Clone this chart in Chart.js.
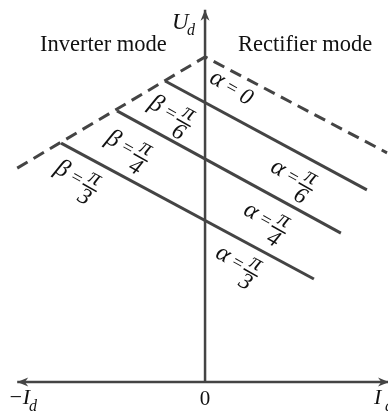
<!DOCTYPE html>
<html>
<head>
<meta charset="utf-8">
<script src="https://cdn.jsdelivr.net/npm/chart.js@4"></script>
<style>
  html, body { margin: 0; padding: 0; background: #fff; }
  #wrap { width: 388px; height: 413px; }
</style>
</head>
<body>
<div id="wrap"><canvas id="diagram" width="388" height="413"></canvas></div>
<script>
// values in units of the rectifier voltage at alpha = 0 (apex = 1)
const boundaryX = [-0.578, 0, 0.560];
const boundaryY = [0.658, 1.0, 0.705];
const angleLabels = ['π/6', 'π/4', 'π/3'];
const lineStartX = [-0.123, -0.271, -0.443];
const lineStartY = [0.926, 0.834, 0.735];
const lineEndX = [0.498, 0.418, 0.335];
const lineEndY = [0.591, 0.458, 0.317];
const axisX = [-0.578, 0.563];
const axisYTop = 1.145;

const ink = '#444';
const serif = '"Liberation Serif", "DejaVu Serif", serif';

const datasets = [{
    data: boundaryX.map((x, i) => ({ x: x, y: boundaryY[i] })),
    borderColor: ink,
    borderWidth: 3,
    borderDash: [12, 7]
}];
angleLabels.forEach((name, i) => {
    datasets.push({
        data: [{ x: lineStartX[i], y: lineStartY[i] }, { x: lineEndX[i], y: lineEndY[i] }],
        borderColor: ink,
        borderWidth: 3
    });
});
datasets.push({
    data: [{ x: axisX[0], y: 0 }, { x: axisX[1], y: 0 }],
    borderColor: ink,
    borderWidth: 2.5
});
datasets.push({
    data: [{ x: 0, y: 0 }, { x: 0, y: axisYTop }],
    borderColor: ink,
    borderWidth: 2.5
});

// pixel anchors for rotated labels (fraction bar centre, or the value for alpha = 0)
const rotLabels = [
    { sym: 'α', frac: null, num: '0', at: [245, 97] },
    { sym: 'β', frac: '6', at: [184, 122] },
    { sym: 'β', frac: '4', at: [141, 157] },
    { sym: 'β', frac: '3', at: [90, 187] },
    { sym: 'α', frac: '6', at: [306, 186] },
    { sym: 'α', frac: '4', at: [279, 229] },
    { sym: 'α', frac: '3', at: [251, 272] }
];

function arrow(ctx, x, y, dx, dy) {
    const len = 11, half = 4.5;
    const px = -dy, py = dx;
    ctx.beginPath();
    ctx.moveTo(x, y);
    ctx.lineTo(x - dx * len + px * half, y - dy * len + py * half);
    ctx.lineTo(x - dx * len * 0.7, y - dy * len * 0.7);
    ctx.lineTo(x - dx * len - px * half, y - dy * len - py * half);
    ctx.closePath();
    ctx.fill();
}

const decor = {
    id: 'decor',
    afterDatasetsDraw(chart) {
        const ctx = chart.ctx;
        const sx = chart.scales.x, sy = chart.scales.y;
        const ox = sx.getPixelForValue(0), oy = sy.getPixelForValue(0);
        ctx.save();
        ctx.fillStyle = ink;
        arrow(ctx, sx.getPixelForValue(axisX[0]), oy, -1, 0);
        arrow(ctx, sx.getPixelForValue(axisX[1]) + 1, oy, 1, 0);
        arrow(ctx, ox, sy.getPixelForValue(axisYTop), 0, -1);

        ctx.fillStyle = '#111';
        ctx.textBaseline = 'alphabetic';
        ctx.font = '22.5px ' + serif;
        ctx.textAlign = 'left';
        ctx.fillText('Inverter mode', 40, 51);
        ctx.fillText('Rectifier mode', 238, 51);

        ctx.font = 'italic 23px ' + serif;
        ctx.fillText('U', 172, 29);
        ctx.font = 'italic 16px ' + serif;
        ctx.fillText('d', 187, 35);

        ctx.font = '21px ' + serif;
        ctx.textAlign = 'center';
        ctx.fillText('0', ox, 405);
        ctx.textAlign = 'left';
        ctx.font = 'italic 22px ' + serif;
        ctx.fillText('−I', 8, 404);
        ctx.fillText('I', 374, 404);
        ctx.font = 'italic 16px ' + serif;
        ctx.fillText('d', 29, 411);
        ctx.fillText('d', 385, 411);

        const ang = 29 * Math.PI / 180;
        rotLabels.forEach(l => {
            ctx.save();
            ctx.translate(l.at[0], l.at[1]);
            ctx.rotate(ang);
            ctx.textAlign = 'center';
            ctx.textBaseline = 'middle';
            ctx.font = 'italic 25px ' + serif;
            ctx.fillText(l.sym, -33, -2);
            ctx.font = '19px ' + serif;
            ctx.fillText('=', -16, -1);
            if (l.frac) {
                ctx.font = 'italic 23px ' + serif;
                ctx.fillText('π', 0, -10);
                ctx.fillText(l.frac, 0, 12);
                ctx.fillRect(-8, 0, 16, 1.5);
            } else {
                ctx.font = 'italic 23px ' + serif;
                ctx.fillText(l.num, 1, 0);
            }
            ctx.restore();
        });
        ctx.restore();
    }
};

new Chart(document.getElementById('diagram').getContext('2d'), {
    type: 'scatter',
    data: { datasets: datasets },
    options: {
        responsive: false,
        animation: false,
        showLine: true,
        layout: { padding: 0 },
        elements: { point: { radius: 0, hoverRadius: 0 }, line: { tension: 0, borderCapStyle: 'butt' } },
        plugins: { legend: { display: false }, tooltip: { enabled: false } },
        scales: {
            x: { type: 'linear', display: false, min: -0.631, max: 0.563 },
            y: { type: 'linear', display: false, min: -0.095, max: 1.175 }
        }
    },
    plugins: [decor]
});
</script>
</body>
</html>
